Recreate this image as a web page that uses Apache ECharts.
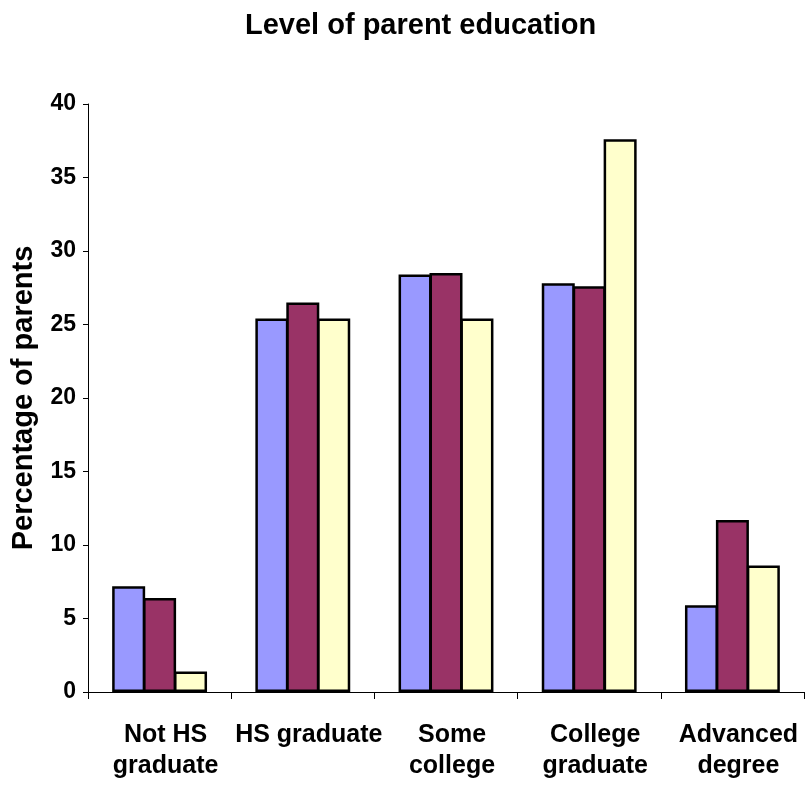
<!DOCTYPE html>
<html>
<head>
<meta charset="utf-8">
<script src="https://cdn.jsdelivr.net/npm/echarts@6/dist/echarts.min.js"></script>
<style>
  html, body { margin: 0; padding: 0; background: #ffffff; }
  #chart { width: 808px; height: 785px; }
</style>
</head>
<body>
<div id="chart"></div>
<script>
// Education categories along the x axis
const categories = ['Not HS\ngraduate', 'HS graduate', 'Some\ncollege', 'College\ngraduate', 'Advanced\ndegree'];

// Percentage of parents in each group, per series
const seriesA = [7.2, 25.4, 28.4, 27.8, 5.9];
const seriesB = [6.4, 26.5, 28.5, 27.6, 11.7];
const seriesC = [1.4, 25.4, 25.4, 37.6, 8.6];

// Y axis range and step
const yMin = 0;
const yMax = 40;
const yStep = 5;

const FONT = '"Liberation Sans", Arial, Helvetica, sans-serif';
const colors = ['#9999FF', '#993366', '#FFFFCC'];

const chart = echarts.init(document.getElementById('chart'), null, { renderer: 'canvas' });

// Neighbouring bars overlap by one border width so they share an outline
function barSeries(data, color) {
  return {
    type: 'bar',
    data: data,
    barWidth: 33,
    barGap: '-6.25%',
    itemStyle: { color: color, borderColor: '#000000', borderWidth: 2.5 },
    emphasis: { disabled: true },
    animation: false
  };
}

chart.setOption({
  animation: false,
  backgroundColor: '#ffffff',
  title: {
    text: 'Level of parent education',
    left: 240,
    top: 6,
    textStyle: { fontFamily: FONT, fontSize: 29, fontWeight: 'bold', color: '#000000' }
  },
  grid: { left: 88, right: 4, top: 104, bottom: 93, containLabel: false },
  xAxis: {
    type: 'category',
    data: categories,
    axisLine: { show: true, lineStyle: { color: '#000000', width: 1 } },
    axisTick: { show: true, length: 7, lineStyle: { color: '#000000' } },
    axisLabel: {
      interval: 0,
      margin: 28,
      padding: [0, 0, 0, 12],
      fontFamily: FONT,
      fontSize: 25,
      fontWeight: 'bold',
      lineHeight: 31,
      color: '#000000'
    },
    splitLine: { show: false }
  },
  yAxis: {
    type: 'value',
    min: yMin,
    max: yMax,
    interval: yStep,
    name: 'Percentage of parents',
    nameLocation: 'middle',
    nameGap: 50,
    nameTextStyle: { fontFamily: FONT, fontSize: 29, fontWeight: 'bold', color: '#000000' },
    axisLine: { show: true, lineStyle: { color: '#000000', width: 1 } },
    axisTick: { show: true, length: 5, lineStyle: { color: '#000000' } },
    axisLabel: { margin: 12, fontFamily: FONT, fontSize: 23, fontWeight: 'bold', color: '#000000' },
    splitLine: { show: false }
  },
  series: [
    barSeries(seriesA, colors[0]),
    barSeries(seriesB, colors[1]),
    barSeries(seriesC, colors[2])
  ]
});
</script>
</body>
</html>
